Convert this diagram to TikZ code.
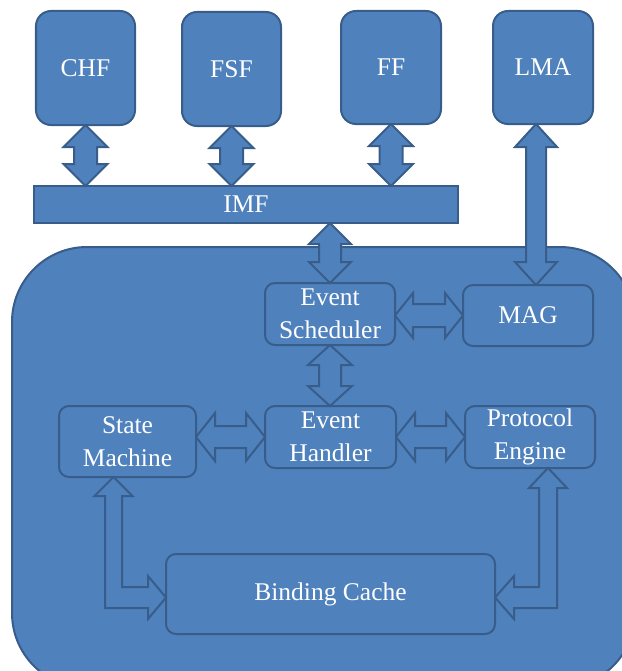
\documentclass[tikz,border=0pt]{standalone}
\usepackage{fontspec}
\setmainfont{Liberation Serif}
\usetikzlibrary{calc}
\definecolor{boxfill}{HTML}{4F81BD}
\definecolor{boxline}{HTML}{385D8A}
\tikzset{
  base/.style={draw=boxline, fill=boxfill, line width=2bp, text=white, inner sep=0pt, outer sep=0pt,
    font=\fontsize{25.5bp}{33.5bp}\selectfont, align=center},
  topbox/.style={base, rounded corners=15bp, minimum width=99bp, minimum height=114bp},
  inbox/.style={base, rounded corners=10bp},
  barrow/.style={draw=boxline, fill=boxfill, line width=2bp, line join=miter},
}
\newcommand{\dblarr}[5]{%
  \coordinate (dA) at (#1);
  \coordinate (dB) at (#2);
  \coordinate (dA1) at ($(dA)!#5!(dB)$);
  \coordinate (dB1) at ($(dB)!#5!(dA)$);
  \draw[barrow] (dA) -- ($(dA1)!#3!90:(dB)$) -- ($(dA1)!#4!90:(dB)$) -- ($(dB1)!#4!-90:(dA)$) -- ($(dB1)!#3!-90:(dA)$) -- (dB) -- ($(dB1)!#3!90:(dA)$) -- ($(dB1)!#4!90:(dA)$) -- ($(dA1)!#4!-90:(dB)$) -- ($(dA1)!#3!-90:(dB)$) -- cycle;
}
\begin{document}
\begin{tikzpicture}[x=1bp, y=-1bp]
\useasboundingbox (0,0) rectangle (622,671);
\begin{scope}
  \clip (0,0) rectangle (622,671);
  \draw[draw=boxline, fill=boxfill, line width=2bp, rounded corners=75bp] (12,247) rectangle (635,688);
\end{scope}
% top boxes
\node[topbox] (chf) at (85.5,68) {CHF};
\node[topbox] (fsf) at (231.5,69) {FSF};
\node[topbox, minimum width=100bp, minimum height=113bp] (ff) at (391,67.5) {FF};
\node[topbox, minimum width=100bp, minimum height=113bp] (lma) at (543,67.5) {LMA};
\node[base, minimum width=424bp, minimum height=37bp] (imf) at (246,204.5) {IMF};
% inner boxes
\node[inbox, minimum width=130bp, minimum height=62bp] (es) at (330,314) {Event\\Scheduler};
\node[inbox, minimum width=130bp, minimum height=61bp] (mag) at (528,315.5) {MAG};
\node[inbox, minimum width=137bp, minimum height=71bp] (sm) at (127.5,441.5) {State\\Machine};
\node[inbox, minimum width=131bp, minimum height=62bp] (eh) at (330.5,437) {Event\\Handler};
\node[inbox, minimum width=130bp, minimum height=62bp] (pe) at (530,437) {Protocol\\Engine};
\node[inbox, minimum width=329bp, minimum height=80bp] (bc) at (330.5,594) {Binding Cache};
% vertical double arrows
\dblarr{chf.south}{chf.south |- imf.north}{22bp}{11.5bp}{22bp}
\dblarr{fsf.south}{fsf.south |- imf.north}{22bp}{11.5bp}{22bp}
\dblarr{ff.south}{ff.south |- imf.north}{22bp}{11.5bp}{22bp}
\dblarr{es.north |- imf.south}{es.north}{21bp}{11bp}{21bp}
\coordinate (lmaout) at ($(lma.south)+(-7,0)$);
\dblarr{lmaout}{lmaout |- mag.north}{21bp}{10bp}{23bp}
\dblarr{es.south}{es.south |- eh.north}{22bp}{11bp}{20bp}
% horizontal double arrows
\dblarr{es.east |- mag.west}{mag.west}{22.5bp}{11.5bp}{18bp}
\dblarr{sm.east |- eh.west}{eh.west}{24bp}{11bp}{19bp}
\dblarr{eh.east}{pe.west}{24bp}{11bp}{19bp}
% bent arrows
\coordinate (smt) at ($(sm.south)+(-14,0)$);
\coordinate (bcl) at ($(bc.west)+(0,3.5)$);
\draw[barrow] (smt) -- +(19,19) -- +(8.5,19) |- ($(bcl)+(-18,-10.5)$) -- ($(bcl)+(-18,-21.5)$) -- (bcl) -- ($(bcl)+(-18,21.5)$) -- ($(bcl)+(-18,10.5)$) -| ($(smt)+(-8.5,19)$) -- ($(smt)+(-19,19)$) -- cycle;
\coordinate (pet) at ($(pe.south)+(18,0)$);
\coordinate (bcr) at ($(bc.east)+(0,3.5)$);
\draw[barrow] (pet) -- +(19,20) -- +(9,20) |- ($(bcr)+(19,10.5)$) -- ($(bcr)+(19,21.5)$) -- (bcr) -- ($(bcr)+(19,-21.5)$) -- ($(bcr)+(19,-10.5)$) -| ($(pet)+(-9,20)$) -- ($(pet)+(-19,20)$) -- cycle;
\end{tikzpicture}
\end{document}
